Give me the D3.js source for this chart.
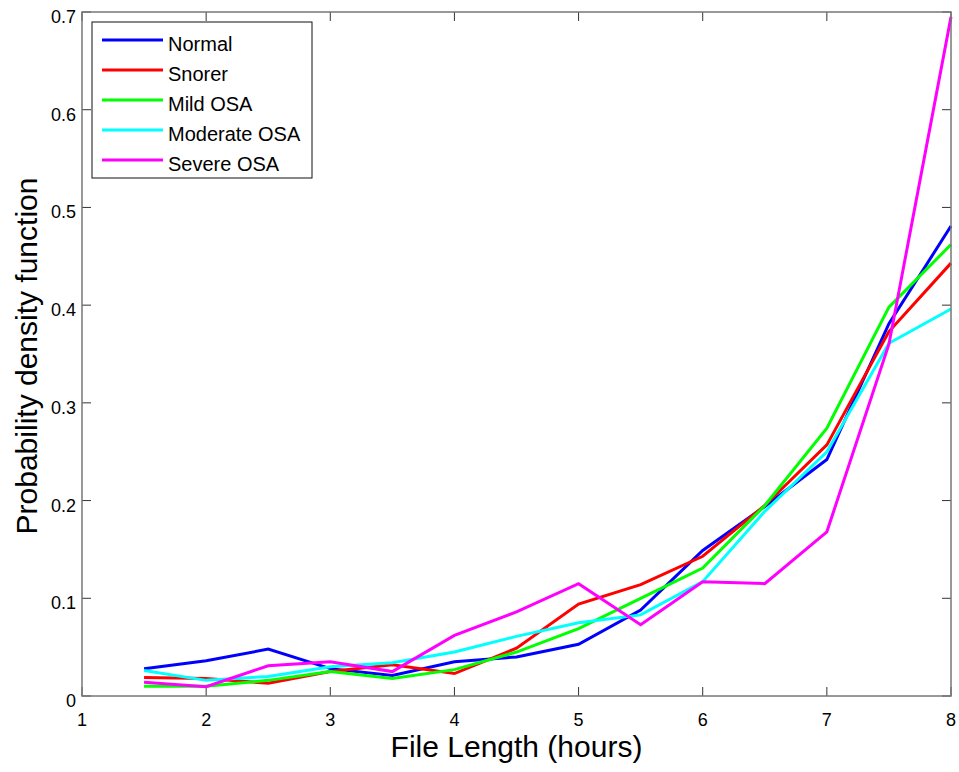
<!DOCTYPE html>
<html>
<head>
<meta charset="utf-8">
<script src="https://cdn.jsdelivr.net/npm/d3@7"></script>
<style>
  body { margin: 0; background: #fff; }
  svg { display: block; font-family: "Liberation Sans", Arial, sans-serif; }
</style>
</head>
<body>
<div id="chart"></div>
<script>
const hours = [1.5, 2, 2.5, 3, 3.5, 4, 4.5, 5, 5.5, 6, 6.5, 7, 7.5, 8]

const normal   = [0.028, 0.036, 0.048, 0.028, 0.021, 0.035, 0.040, 0.053, 0.088, 0.149, 0.194, 0.242, 0.381, 0.481]
const snorer   = [0.019, 0.018, 0.013, 0.025, 0.032, 0.023, 0.049, 0.094, 0.114, 0.143, 0.195, 0.257, 0.373, 0.443]
const mildOSA  = [0.010, 0.010, 0.016, 0.025, 0.018, 0.027, 0.045, 0.069, 0.100, 0.131, 0.195, 0.274, 0.398, 0.462]
const modOSA   = [0.026, 0.016, 0.020, 0.030, 0.034, 0.045, 0.061, 0.075, 0.083, 0.117, 0.189, 0.250, 0.361, 0.396]
const severOSA = [0.014, 0.0095, 0.031, 0.035, 0.025, 0.062, 0.086, 0.115, 0.073, 0.117, 0.115, 0.168, 0.360, 0.695]

const seriesNames  = ['Normal', 'Snorer', 'Mild OSA', 'Moderate OSA', 'Severe OSA']
const seriesColors = ['#0000ff', '#ff0000', '#00ff00', '#00ffff', '#ff00ff']
const seriesValues = [normal, snorer, mildOSA, modOSA, severOSA]

const xTicks = [1, 2, 3, 4, 5, 6, 7, 8]
const yTicks = [0, 0.1, 0.2, 0.3, 0.4, 0.5, 0.6, 0.7]

const W = 959, H = 772
const mLeft = 82, mRight = 951, mTop = 12, mBottom = 696

const x = d3.scaleLinear().domain([1, 8]).range([mLeft, mRight])
const y = d3.scaleLinear().domain([0, 0.7]).range([mBottom, mTop])

const svg = d3.select('#chart').append('svg')
    .attr('width', W)
    .attr('height', H)

// ticks (inward, on all four sides)
const tickLen = 9
const ticks = svg.append('g').attr('stroke', '#333').attr('stroke-width', 1)
xTicks.forEach(t => {
  ticks.append('line').attr('x1', x(t)).attr('x2', x(t)).attr('y1', mBottom).attr('y2', mBottom - tickLen)
  ticks.append('line').attr('x1', x(t)).attr('x2', x(t)).attr('y1', mTop).attr('y2', mTop + tickLen)
})
yTicks.forEach(t => {
  ticks.append('line').attr('x1', mLeft).attr('x2', mLeft + tickLen).attr('y1', y(t)).attr('y2', y(t))
  ticks.append('line').attr('x1', mRight).attr('x2', mRight - tickLen).attr('y1', y(t)).attr('y2', y(t))
})

// tick labels
svg.append('g').selectAll('text').data(xTicks).enter().append('text')
    .attr('x', d => x(d))
    .attr('y', mBottom + 30)
    .attr('text-anchor', 'middle')
    .attr('font-size', 18)
    .text(d => d)

svg.append('g').selectAll('text').data(yTicks).enter().append('text')
    .attr('x', mLeft - 6)
    .attr('y', d => y(d) + 11)
    .attr('text-anchor', 'end')
    .attr('font-size', 18)
    .text(d => d === 0 ? '0' : d.toFixed(1))

// lines
const line = d3.line()
    .x((d, i) => x(hours[i]))
    .y(d => y(d))

svg.append('g').selectAll('path').data(seriesValues).enter().append('path')
    .attr('d', line)
    .attr('fill', 'none')
    .attr('stroke', (d, i) => seriesColors[i])
    .attr('stroke-width', 3)
    .attr('stroke-linejoin', 'miter')

// frame
svg.append('rect')
    .attr('x', mLeft).attr('y', mTop)
    .attr('width', mRight - mLeft).attr('height', mBottom - mTop)
    .attr('fill', 'none')
    .attr('stroke', '#777')
    .attr('stroke-width', 1.5)

// axis labels
svg.append('text')
    .attr('x', (mLeft + mRight) / 2)
    .attr('y', 757)
    .attr('text-anchor', 'middle')
    .attr('font-size', 30)
    .text('File Length (hours)')

svg.append('text')
    .attr('transform', `translate(37,${(mTop + mBottom) / 2 + 2}) rotate(-90)`)
    .attr('text-anchor', 'middle')
    .attr('font-size', 30)
    .text('Probability density function')

// legend
const legend = svg.append('g').attr('transform', 'translate(92,22)')
legend.append('rect')
    .attr('width', 220).attr('height', 156)
    .attr('fill', '#fff')
    .attr('stroke', '#111')
    .attr('stroke-width', 1)

const rows = legend.selectAll('g.row').data(seriesNames).enter().append('g')
    .attr('class', 'row')
    .attr('transform', (d, i) => `translate(0,${18 + i * 30})`)
rows.append('line')
    .attr('x1', 10).attr('x2', 71)
    .attr('stroke', (d, i) => seriesColors[i])
    .attr('stroke-width', 3)
rows.append('text')
    .attr('x', 76)
    .attr('y', 11)
    .attr('font-size', 20)
    .text(d => d)
</script>
</body>
</html>
